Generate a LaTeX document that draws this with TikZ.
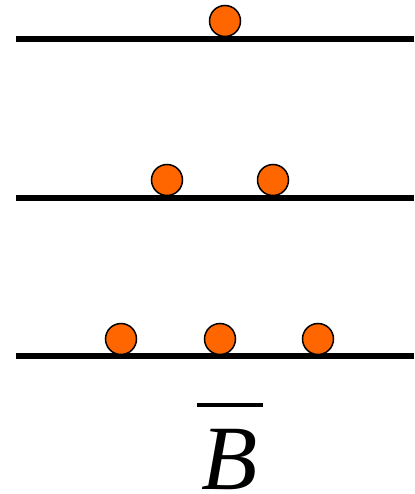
\documentclass[tikz,border=0pt]{standalone}
\usepackage{fontspec}
\setmainfont{Liberation Serif}
\usepackage{tikz}
\usetikzlibrary{positioning}
\definecolor{ballorange}{RGB}{255,102,0}

\begin{document}
\begin{tikzpicture}[
    x=1pt, y=-1pt,
    level/.style={line width=6pt},
    ball/.style={circle, draw, line width=1.5pt, fill=ballorange, minimum size=31pt, inner sep=0pt},
]
    \useasboundingbox (0,0) rectangle (414,494);

    \coordinate (l1a) at (16,39);  \coordinate (l1b) at (414,39);
    \coordinate (l2a) at (16,198); \coordinate (l2b) at (414,198);
    \coordinate (l3a) at (16,356); \coordinate (l3b) at (414,356);
    \draw[level] (l1a) -- (l1b);
    \draw[level] (l2a) -- (l2b);
    \draw[level] (l3a) -- (l3b);

    \node[ball] (b1) at (225,21) {};
    \node[ball] (b2a) at (167,180) {};
    \node[ball] (b2b) at (273,180) {};
    \node[ball] (b3a) at (121,339) {};
    \node[ball] (b3b) at (220,339) {};
    \node[ball] (b3c) at (318,339) {};

    \node[anchor=south, inner sep=0pt, align=center, font=\fontsize{92}{83}\selectfont] (bbar) at (230,490) {\rule{66pt}{4pt}\\\itshape B};
\end{tikzpicture}
\end{document}
